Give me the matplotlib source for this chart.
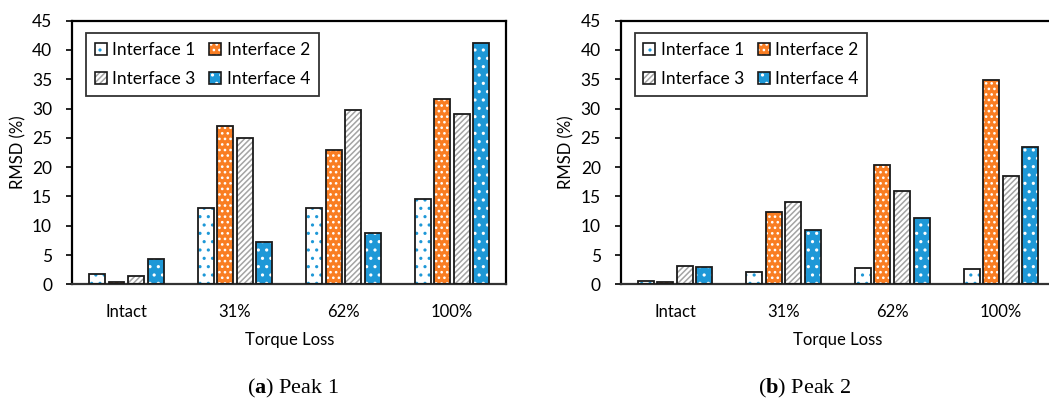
import numpy as np
import matplotlib
matplotlib.use("Agg")
import matplotlib.pyplot as plt
from matplotlib.patches import Patch

plt.rcParams['font.family'] = ['Lato', 'DejaVu Sans']
plt.rcParams['hatch.linewidth'] = 1.1
plt.rcParams['mathtext.fontset'] = 'custom'
plt.rcParams['mathtext.bf'] = 'Liberation Serif:bold'
plt.rcParams['mathtext.rm'] = 'Liberation Serif'

# data
categories = ['Intact', '31%', '62%', '100%']
series = ['Interface 1', 'Interface 2', 'Interface 3', 'Interface 4']

peak1_if1 = [1.7, 13.1, 13.1, 14.5]
peak1_if2 = [0.45, 27.0, 22.9, 31.6]
peak1_if3 = [1.5, 25.0, 29.8, 29.1]
peak1_if4 = [4.3, 7.2, 8.8, 41.2]

peak2_if1 = [0.55, 2.15, 2.7, 2.6]
peak2_if2 = [0.35, 12.35, 20.4, 34.8]
peak2_if3 = [3.05, 14.0, 16.0, 18.5]
peak2_if4 = [2.9, 9.3, 11.4, 23.4]

orange = '#F97D22'
blue = '#1E98D7'
# (face colour, hatch colour, hatch)
styles = [
    ('white', blue, '..'),
    (orange, 'white', '...'),
    ('white', '#A4A4A4', '//////'),
    (blue, 'white', '..'),
]

offsets = [-0.27, -0.09, 0.09, 0.27]
bar_w = 0.147

fig = plt.figure(figsize=(10.49, 4.01), dpi=100)


def draw_panel(rect, data, caption, caption_x):
    ax = fig.add_axes(rect)
    x = np.arange(len(categories))
    for vals, off, (fc, hc, h) in zip(data, offsets, styles):
        ax.bar(x + off, vals, bar_w, color=fc, edgecolor=hc, hatch=h, linewidth=0, zorder=2)
        ax.bar(x + off, vals, bar_w, fill=False, edgecolor='#1a1a1a', linewidth=1.3, zorder=3)

    ax.set_xlim(-0.5, 3.5)
    ax.set_ylim(0, 45)
    ax.set_yticks(np.arange(0, 46, 5))
    ax.set_xticks(x)
    ax.set_xticklabels(categories)
    ax.tick_params(axis='x', length=0, pad=14, labelsize=12)
    ax.tick_params(axis='y', length=4.3, width=1.2, pad=10, labelsize=12.5, direction='out')
    for s in ax.spines.values():
        s.set_linewidth(1.6)
        s.set_color('black')
    ax.spines['bottom'].set_color('#333333')

    ax.set_xlabel('Torque Loss', fontsize=12)
    ax.xaxis.set_label_coords(0.5, -0.211)
    ax.xaxis.label.set_va('center')
    ax.set_ylabel('RMSD (%)', fontsize=12)
    ax.yaxis.set_label_coords(-0.124, 0.5)
    ax.yaxis.label.set_va('center')

    handles = []
    for fc, hc, h in styles:
        handles.append((Patch(facecolor=fc, edgecolor=hc, hatch=h, linewidth=0),
                        Patch(facecolor='none', edgecolor='#1a1a1a', linewidth=1.2)))
    order = [0, 2, 1, 3]
    leg = ax.legend([handles[i] for i in order], [series[i] for i in order],
                    ncol=2, loc='upper left', bbox_to_anchor=(0.032, 0.952),
                    borderaxespad=0, fontsize=12.5, frameon=True, fancybox=False,
                    edgecolor='black', handlelength=0.7, handleheight=0.75,
                    handletextpad=0.3, columnspacing=0.8, labelspacing=0.75,
                    borderpad=0.5)
    leg.get_frame().set_linewidth(1.3)
    leg.set_zorder(5)

    fig.text(caption_x, 0.0324, caption, ha='center', va='center',
             fontsize=16, family='Liberation Serif')
    return ax


draw_panel([0.0686, 0.291, 0.4142, 0.6574],
           [peak1_if1, peak1_if2, peak1_if3, peak1_if4],
           r'($\mathbf{a}$) Peak 1', 0.2793)
draw_panel([0.5917, 0.291, 0.4142, 0.6574],
           [peak2_if1, peak2_if2, peak2_if3, peak2_if4],
           r'($\mathbf{b}$) Peak 2', 0.767)

fig.savefig('out.png', dpi=100)
